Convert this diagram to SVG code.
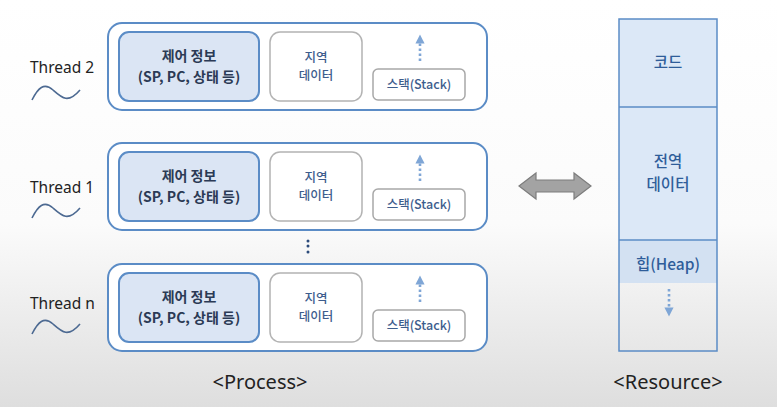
<svg xmlns="http://www.w3.org/2000/svg" width="777" height="407" viewBox="0 0 777 407">
<defs>
<linearGradient id="bg" x1="0" y1="0" x2="0" y2="1">
<stop offset="0" stop-color="#ffffff"/>
<stop offset="0.55" stop-color="#fbfbfb"/>
<stop offset="1" stop-color="#dedede"/>
</linearGradient>
<marker id="up" viewBox="0 0 10 10" refX="5" refY="5" markerWidth="3.5" markerHeight="3.5" orient="auto">
<path d="M0,0 L10,5 L0,10 z" fill="#7fa6d6"/>
</marker>
<style>
.cont{fill:#ffffff;stroke:#5b8cc6;stroke-width:2}
.ctrl{fill:#dbe5f4;stroke:#5b8cc6;stroke-width:2}
.loc{fill:#ffffff;stroke:#b3b3b3;stroke-width:1.5}
.stk{fill:#ffffff;stroke:#a8a8a8;stroke-width:1.5}
.t{font-family:"Noto Sans CJK KR","Noto Sans",sans-serif;text-anchor:middle}
.ct{font-size:14px;font-weight:bold;fill:#2b3a55}
.lt{font-size:12.5px;font-weight:500;fill:#3d5d8d}
.st{font-size:12.5px;font-weight:500;fill:#3d5d8d}
.th{font-family:"Noto Sans","Noto Sans CJK KR",sans-serif;font-size:15.5px;fill:#222}
.wave{fill:none;stroke:#4d6a92;stroke-width:1.6}
.dash{stroke:#7fa6d6;stroke-width:2.6;stroke-dasharray:2.5 2.5;fill:none}
.big{font-family:"Noto Sans","Noto Sans CJK KR",sans-serif;font-size:20px;fill:#222;text-anchor:middle}
.rt{font-family:"Noto Sans CJK KR","Noto Sans",sans-serif;font-size:15.5px;font-weight:500;fill:#2f5d9a;text-anchor:middle}
</style>
</defs>
<rect width="777" height="407" fill="url(#bg)"/>

<g id="thread2">
<text class="th" x="30" y="73">Thread 2</text>
<path class="wave" d="M32,100 C38,88 44,82 53,90 S68,104 80,90"/>
<rect class="cont" x="108" y="23" width="379" height="87" rx="14"/>
<rect class="ctrl" x="119" y="32" width="140" height="69" rx="10"/>
<text class="t ct" x="189" y="61">제어 정보</text>
<text class="t ct" x="189" y="82">(SP, PC, 상태 등)</text>
<rect class="loc" x="270" y="32" width="92" height="69" rx="10"/>
<text class="t lt" x="316" y="62">지역</text>
<text class="t lt" x="316" y="80">데이터</text>
<rect class="stk" x="373" y="69" width="92" height="31" rx="5"/>
<text class="t st" x="419" y="89">스택(Stack)</text>
<line class="dash" x1="420" y1="61" x2="420" y2="39" marker-end="url(#up)"/>
</g>

<g id="thread1">
<text class="th" x="30" y="193">Thread 1</text>
<path class="wave" d="M32,218 C38,206 44,200 53,208 S68,222 80,208"/>
<rect class="cont" x="108" y="143" width="379" height="87" rx="14"/>
<rect class="ctrl" x="119" y="152" width="140" height="69" rx="10"/>
<text class="t ct" x="189" y="181">제어 정보</text>
<text class="t ct" x="189" y="202">(SP, PC, 상태 등)</text>
<rect class="loc" x="270" y="152" width="92" height="69" rx="10"/>
<text class="t lt" x="316" y="182">지역</text>
<text class="t lt" x="316" y="200">데이터</text>
<rect class="stk" x="373" y="189" width="92" height="31" rx="5"/>
<text class="t st" x="419" y="209">스택(Stack)</text>
<line class="dash" x1="420" y1="181" x2="420" y2="159" marker-end="url(#up)"/>
</g>

<g id="dots">
<circle cx="308" cy="241" r="1.5" fill="#2b4a7a"/>
<circle cx="308" cy="246" r="1.5" fill="#2b4a7a"/>
<circle cx="308" cy="252" r="1.5" fill="#2b4a7a"/>
</g>

<g id="threadn">
<text class="th" x="30" y="309">Thread n</text>
<path class="wave" d="M32,334 C38,322 44,316 53,324 S68,338 80,324"/>
<rect class="cont" x="108" y="264" width="379" height="87" rx="14"/>
<rect class="ctrl" x="119" y="273" width="140" height="69" rx="10"/>
<text class="t ct" x="189" y="302">제어 정보</text>
<text class="t ct" x="189" y="323">(SP, PC, 상태 등)</text>
<rect class="loc" x="270" y="273" width="92" height="69" rx="10"/>
<text class="t lt" x="316" y="303">지역</text>
<text class="t lt" x="316" y="321">데이터</text>
<rect class="stk" x="373" y="310" width="92" height="31" rx="5"/>
<text class="t st" x="419" y="330">스택(Stack)</text>
<line class="dash" x1="420" y1="302" x2="420" y2="280" marker-end="url(#up)"/>
</g>

<text class="big" x="260" y="389">&lt;Process&gt;</text>

<g id="connectors">
<path d="M519,186 L536,173 L536,180 L574,180 L574,173 L591,186 L574,199 L574,192 L536,192 L536,199 Z" fill="#a3a3a3" stroke="#7d7d7d" stroke-width="1.2"/>
</g>

<g id="resource">
<rect x="619" y="19" width="98" height="264" fill="#dce8f7"/>
<rect x="619" y="240" width="98" height="43" fill="#d3e1f2"/>
<rect x="619" y="19" width="98" height="332" fill="none" stroke="#5b8cc6" stroke-width="1.5"/>
<line x1="619" y1="107" x2="717" y2="107" stroke="#5b8cc6" stroke-width="1.5"/>
<line x1="619" y1="240" x2="717" y2="240" stroke="#5b8cc6" stroke-width="1.5"/>
<text class="rt" x="668" y="68">코드</text>
<text class="rt" x="668" y="167">전역</text>
<text class="rt" x="668" y="190">데이터</text>
<text class="rt" x="668" y="270">힙(Heap)</text>
<line class="dash" x1="669" y1="289" x2="669" y2="312" marker-end="url(#up)"/>
</g>

<text class="big" x="668" y="389">&lt;Resource&gt;</text>
</svg>
